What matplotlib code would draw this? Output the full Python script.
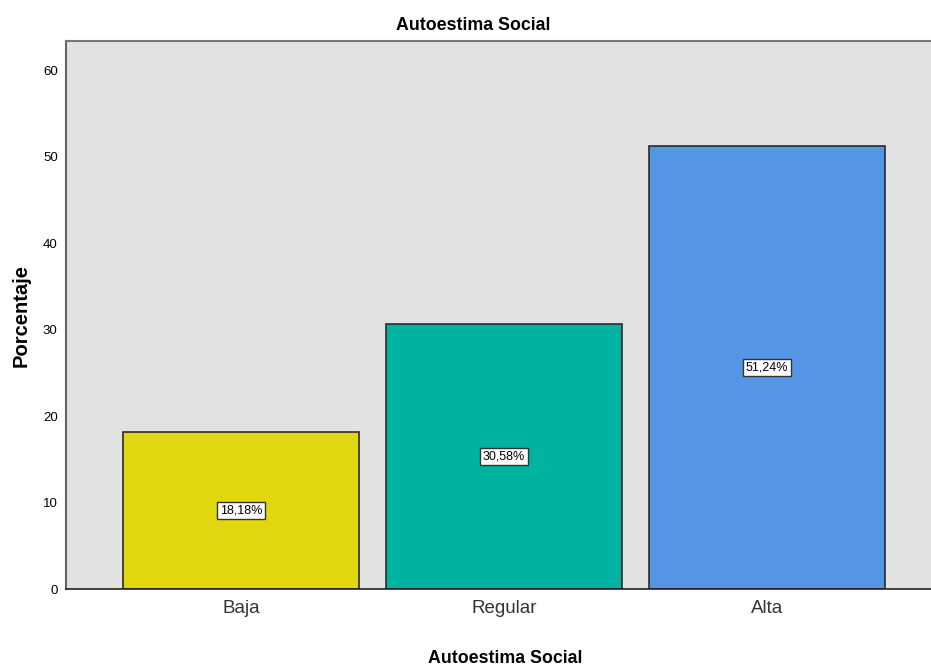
import matplotlib
matplotlib.use("Agg")
import matplotlib.pyplot as plt

# Datos del gráfico
categorias = ["Baja", "Regular", "Alta"]
porcentajes = [18.18, 30.58, 51.24]
etiquetas = ["18,18%", "30,58%", "51,24%"]
colores = ["#E1D70F", "#00B3A0", "#5596E4"]
yticks = [0, 10, 20, 30, 40, 50, 60]

plt.rcParams['font.family'] = ['Liberation Sans', 'DejaVu Sans']

fig = plt.figure(figsize=(9.31, 6.66), dpi=100)
ax = fig.add_axes([0.0709, 0.1156, 0.9291, 0.8228])
ax.set_facecolor("#E2E2E2")

x = list(range(len(categorias)))
ax.bar(x, porcentajes, width=0.9, color=colores, edgecolor="#2b2b2b", linewidth=1.2, zorder=2)

# Etiquetas de porcentaje en el centro de cada barra
for xi, val, txt in zip(x, porcentajes, etiquetas):
    ax.text(xi, val / 2, txt, ha="center", va="center", fontsize=9, zorder=3,
            bbox=dict(boxstyle="square,pad=0.2", facecolor="white", edgecolor="#333333", linewidth=1))

ax.set_xlim(-0.665, 2.624)
ax.set_ylim(0, 63.35)
ax.set_yticks(yticks)
ax.set_xticks(x)
ax.set_xticklabels(categorias, fontsize=13.5, color="#333333")
ax.tick_params(axis="y", length=0, labelsize=9.5, pad=6)
ax.tick_params(axis="x", length=0, pad=8)

ax.spines["right"].set_visible(False)
ax.spines["left"].set_color("#666666")
ax.spines["left"].set_linewidth(1.5)
ax.spines["top"].set_color("#777777")
ax.spines["top"].set_linewidth(1.5)
ax.spines["bottom"].set_color("#222222")
ax.spines["bottom"].set_linewidth(1.2)

fig.text(0.508, 0.962, "Autoestima Social", ha="center", va="center", fontsize=12.75, fontweight="bold")
fig.text(0.543, 0.012, "Autoestima Social", ha="center", va="center", fontsize=12.8, fontweight="bold")
fig.text(0.023, 0.526, "Porcentaje", ha="center", va="center", rotation=90, fontsize=14.5, fontweight="bold")

fig.savefig("out.png", dpi=100)
